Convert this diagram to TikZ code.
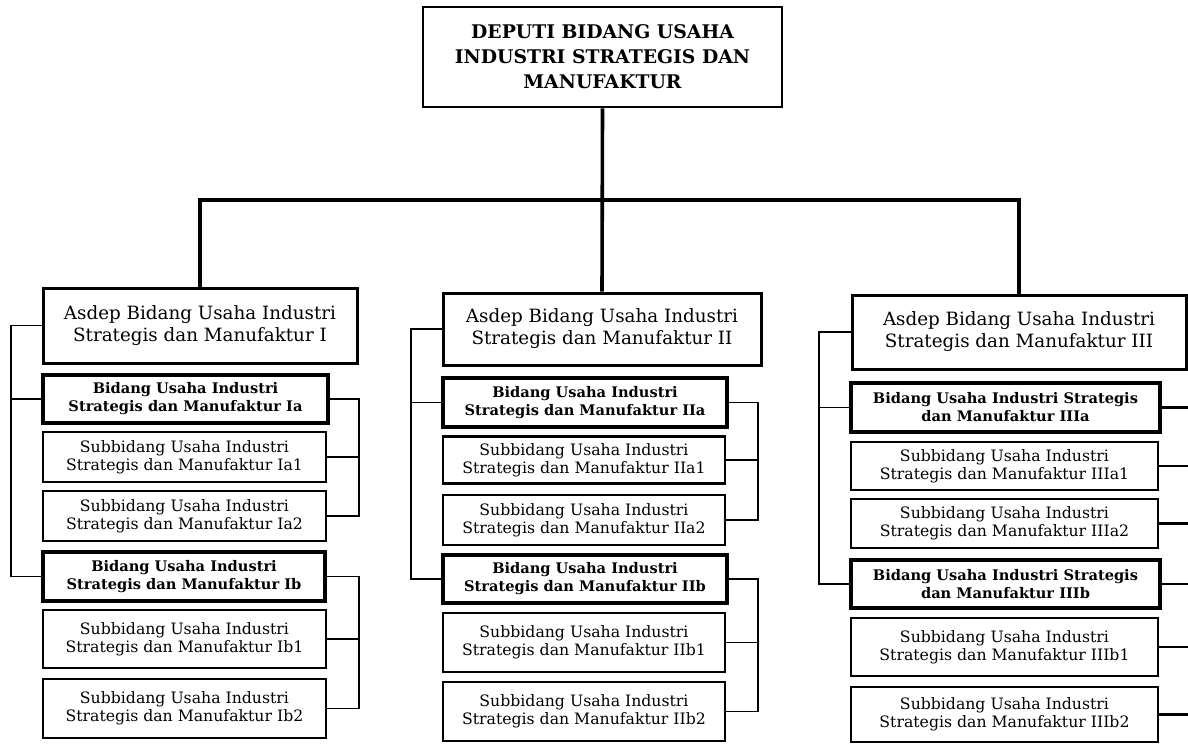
\documentclass[tikz,border=0pt]{standalone}
\usepackage{fontspec}
\setmainfont{DejaVu Serif}
\begin{document}
\begin{tikzpicture}[x=1pt,y=-1pt,
  box/.style={draw, rectangle, align=center, inner sep=0pt, line join=miter},
  deputi/.style={box, line width=2.8pt, font=\bfseries\fontsize{18.8}{25}\selectfont},
  asdep/.style={box, line width=3pt, font=\fontsize{18.3}{22}\selectfont},
  bidang/.style={box, line width=3.4pt, font=\bfseries\fontsize{14.6}{18}\selectfont},
  subbid/.style={box, line width=2.3pt, font=\fontsize{15.7}{18}\selectfont},
  mainline/.style={line width=3.6pt, line join=miter},
  side/.style={line width=1.6pt, line join=miter},
  sidethick/.style={line width=2.2pt}]
\useasboundingbox (0,0) rectangle (1188,744);

% top
\node[deputi, minimum width=359, minimum height=100] (top) at (602.5,57)
  {DEPUTI BIDANG USAHA\\INDUSTRI STRATEGIS DAN\\MANUFAKTUR};

% column 1
\node[asdep, minimum width=314, minimum height=75] (A1) at (200,325.5)
  {Asdep Bidang Usaha Industri\\Strategis dan Manufaktur I};
\node[bidang, minimum width=285, minimum height=48] (B1a) at (185.5,399)
  {Bidang Usaha Industri\\Strategis dan Manufaktur Ia};
\node[subbid, minimum width=283, minimum height=50] (S1a1) at (184.5,457)
  {Subbidang Usaha Industri\\Strategis dan Manufaktur Ia1};
\node[subbid, minimum width=283, minimum height=50] (S1a2) at (184.5,516)
  {Subbidang Usaha Industri\\Strategis dan Manufaktur Ia2};
\node[bidang, minimum width=282, minimum height=49] (B1b) at (184,576.5)
  {Bidang Usaha Industri\\Strategis dan Manufaktur Ib};
\node[subbid, minimum width=283, minimum height=58] (S1b1) at (184.5,639)
  {Subbidang Usaha Industri\\Strategis dan Manufaktur Ib1};
\node[subbid, minimum width=283, minimum height=59] (S1b2) at (184.5,708.5)
  {Subbidang Usaha Industri\\Strategis dan Manufaktur Ib2};

% column 2
\node[asdep, minimum width=318, minimum height=72] (A2) at (602,329)
  {Asdep Bidang Usaha Industri\\Strategis dan Manufaktur II};
\node[bidang, minimum width=284, minimum height=49] (B2a) at (585,402.5)
  {Bidang Usaha Industri\\Strategis dan Manufaktur IIa};
\node[subbid, minimum width=282, minimum height=47] (S2a1) at (584,460)
  {Subbidang Usaha Industri\\Strategis dan Manufaktur IIa1};
\node[subbid, minimum width=282, minimum height=50] (S2a2) at (584,520)
  {Subbidang Usaha Industri\\Strategis dan Manufaktur IIa2};
\node[bidang, minimum width=284, minimum height=48] (B2b) at (585,579)
  {Bidang Usaha Industri\\Strategis dan Manufaktur IIb};
\node[subbid, minimum width=282, minimum height=59] (S2b1) at (584,642.5)
  {Subbidang Usaha Industri\\Strategis dan Manufaktur IIb1};
\node[subbid, minimum width=282, minimum height=59] (S2b2) at (584,711.5)
  {Subbidang Usaha Industri\\Strategis dan Manufaktur IIb2};

% column 3
\node[asdep, minimum width=334, minimum height=74] (A3) at (1019,332)
  {Asdep Bidang Usaha Industri\\Strategis dan Manufaktur III};
\node[bidang, minimum width=309, minimum height=49] (B3a) at (1005.5,407.5)
  {Bidang Usaha Industri Strategis\\dan Manufaktur IIIa};
\node[subbid, minimum width=307, minimum height=48] (S3a1) at (1004.5,466)
  {Subbidang Usaha Industri\\Strategis dan Manufaktur IIIa1};
\node[subbid, minimum width=307, minimum height=49] (S3a2) at (1004.5,523.5)
  {Subbidang Usaha Industri\\Strategis dan Manufaktur IIIa2};
\node[bidang, minimum width=309, minimum height=48] (B3b) at (1005.5,584)
  {Bidang Usaha Industri Strategis\\dan Manufaktur IIIb};
\node[subbid, minimum width=307, minimum height=58] (S3b1) at (1004.5,647)
  {Subbidang Usaha Industri\\Strategis dan Manufaktur IIIb1};
\node[subbid, minimum width=307, minimum height=55] (S3b2) at (1004.5,714.5)
  {Subbidang Usaha Industri\\Strategis dan Manufaktur IIIb2};

% main tree
\coordinate (bar) at (602,200);
\draw[mainline] (top.south) -- (A2.north);
\draw[mainline] (A1.north) |- (bar) -| (A3.north);

% guide coordinates for side connectors
\coordinate (L1) at (11,0);
\coordinate (R1) at (359,0);
\coordinate (L2) at (411,0);
\coordinate (R2) at (758,0);
\coordinate (L3) at (819,0);
\coordinate (R3) at (1188,0);

% column 1 connectors
\draw[side] (A1.west) -- (A1.west -| L1) |- (B1b.west);
\draw[side] (B1a.west) -- (B1a.west -| L1);
\draw[side] (B1a.east) -- (B1a.east -| R1) |- (S1a2.east);
\draw[side] (S1a1.east) -- (S1a1.east -| R1);
\draw[side] (B1b.east) -- (B1b.east -| R1) |- (S1b2.east);
\draw[side] (S1b1.east) -- (S1b1.east -| R1);

% column 2 connectors
\draw[side] (A2.west) -- (A2.west -| L2) |- (B2b.west);
\draw[side] (B2a.west) -- (B2a.west -| L2);
\draw[side] (B2a.east) -- (B2a.east -| R2) |- (S2a2.east);
\draw[side] (S2a1.east) -- (S2a1.east -| R2);
\draw[side] (B2b.east) -- (B2b.east -| R2) |- (S2b2.east);
\draw[side] (S2b1.east) -- (S2b1.east -| R2);

% column 3 connectors
\draw[side] (A3.west) -- (A3.west -| L3) |- (B3b.west);
\draw[side] (B3a.west) -- (B3a.west -| L3);
\foreach \n in {B3a,S3a1,S3a2,B3b,S3b1,S3b2}
  \draw[sidethick] (\n.east) -- (\n.east -| R3);
\end{tikzpicture}
\end{document}
